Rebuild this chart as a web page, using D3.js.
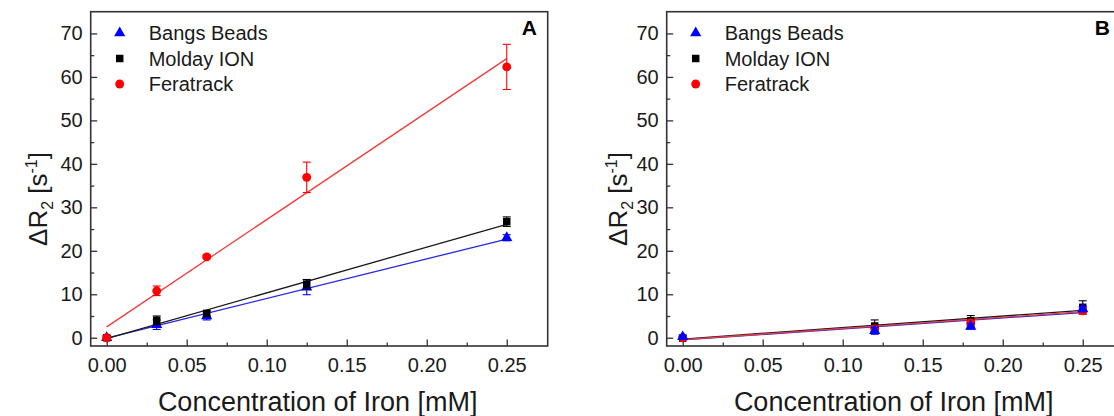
<!DOCTYPE html>
<html>
<head>
<meta charset="utf-8">
<script src="https://cdn.jsdelivr.net/npm/d3@7"></script>
<style>
  body { margin: 0; background: #fff; }
  svg { display: block; font-family: "Liberation Sans", Arial, sans-serif; }
</style>
</head>
<body>
<div id="chart-container"></div>
<script>
const seriesNames = ["Bangs Beads", "Molday ION", "Feratrack"]
const seriesColors = ["#0000ff", "#000000", "#ff0000"]
const lineColors = ["#2626e8", "#1a1a1a", "#ef3b3b"]

// panel A
const concA = [0, 0.03125, 0.0625, 0.125, 0.25]
const bangsA = [0, 3.0, 5.0, 11.6, 23.0]
const bangsErrA = [0.5, 1.1, 0.9, 1.7, 0.7]
const moldayA = [0, 4.0, 5.6, 12.3, 26.7]
const moldayErrA = [0.4, 1.0, 0.6, 1.1, 1.1]
const feraA = [0, 10.8, 18.6, 36.9, 62.3]
const feraErrA = [0.4, 1.1, 0.4, 3.5, 5.2]
// fitted lines: value at first and last concentration
const bangsFitA = [-0.1, 22.7]
const moldayFitA = [-0.2, 26.1]
const feraFitA = [2.5, 64.2]

// panel B
const concB = [0, 0.12, 0.18, 0.25]
const bangsB = [0.2, 1.6, 2.6, 6.6]
const bangsErrB = [0.4, 0.8, 0.6, 0.6]
const moldayB = [-0.1, 2.7, 3.9, 7.0]
const moldayErrB = [0.3, 1.4, 1.2, 1.5]
const feraB = [0, 2.1, 3.4, 6.2]
const feraErrB = [0.3, 0.6, 0.6, 0.8]
const bangsFitB = [-0.5, 5.8]
const moldayFitB = [-0.3, 6.3]
const feraFitB = [-0.45, 6.0]

const xTicks = [0, 0.05, 0.1, 0.15, 0.2, 0.25]
const xMinorTicks = [0.025, 0.075, 0.125, 0.175, 0.225]
const yTicks = [0, 10, 20, 30, 40, 50, 60, 70]
const yMinorTicks = [5, 15, 25, 35, 45, 55, 65]

const W = 1114, H = 416
const plotTop = 11.7, plotBottom = 346
const font = `"Liberation Sans", Arial, sans-serif`

const svg = d3.select("#chart-container")
    .append("svg")
        .attr("width", W)
        .attr("height", H)

const symbols = [d3.symbolTriangle, d3.symbolSquare, d3.symbolCircle]
const symbolSizes = [54, 56, 62]

function drawPanel(p) {
    const x = d3.scaleLinear()
        .domain([-0.01, 0.2756])
        .range([p.left, p.left + 457])
    const y = d3.scaleLinear()
        .domain([-1.9, 75])
        .range([plotBottom, plotTop])

    const g = svg.append("g")

    // ticks (inward)
    const xAxis = g.append("g")
        .attr("transform", `translate(0, ${plotBottom})`)
        .call(d3.axisBottom(x).tickValues(xTicks).tickSizeInner(-6.5).tickSizeOuter(0)
            .tickPadding(11.5).tickFormat(d3.format(".2f")))
    const xMinor = g.append("g")
        .attr("transform", `translate(0, ${plotBottom})`)
        .call(d3.axisBottom(x).tickValues(xMinorTicks).tickSizeInner(-3.5).tickSizeOuter(0).tickFormat(""))
    const yAxis = g.append("g")
        .attr("transform", `translate(${p.left}, 0)`)
        .call(d3.axisLeft(y).tickValues(yTicks).tickSizeInner(-6.5).tickSizeOuter(0).tickPadding(8))
    const yMinor = g.append("g")
        .attr("transform", `translate(${p.left}, 0)`)
        .call(d3.axisLeft(y).tickValues(yMinorTicks).tickSizeInner(-3.5).tickSizeOuter(0).tickFormat(""))

    ;[xAxis, xMinor, yAxis, yMinor].forEach(a => {
        a.select(".domain").remove()
        a.selectAll("line").attr("stroke", "#333").attr("stroke-width", 1.3)
        a.selectAll("text").attr("font-size", 20).attr("font-family", font).attr("fill", "#1a1a1a")
    })

    // frame
    g.append("rect")
        .attr("x", x.range()[0])
        .attr("y", plotTop)
        .attr("width", x.range()[1] - x.range()[0])
        .attr("height", plotBottom - plotTop)
        .attr("fill", "none")
        .attr("stroke", "#333")
        .attr("stroke-width", 1.6)

    // fitted lines
    p.fits.forEach((f, i) => {
        g.append("line")
            .attr("x1", x(p.conc[0]))
            .attr("x2", x(p.conc[p.conc.length - 1]))
            .attr("y1", y(f[0]))
            .attr("y2", y(f[1]))
            .attr("stroke", lineColors[i])
            .attr("stroke-width", 1.3)
    })

    // error bars + markers
    p.order.forEach(i => {
        const vals = p.values[i], errs = p.errors[i]
        const eb = g.append("g").attr("stroke", seriesColors[i]).attr("stroke-width", 1.1)
        vals.forEach((v, j) => {
            const cx = x(p.conc[j])
            eb.append("line").attr("x1", cx).attr("x2", cx).attr("y1", y(v - errs[j])).attr("y2", y(v + errs[j]))
            eb.append("line").attr("x1", cx - 4).attr("x2", cx + 4).attr("y1", y(v - errs[j])).attr("y2", y(v - errs[j]))
            eb.append("line").attr("x1", cx - 4).attr("x2", cx + 4).attr("y1", y(v + errs[j])).attr("y2", y(v + errs[j]))
        })
        g.selectAll(null)
            .data(vals)
            .enter().append("path")
            .attr("d", d3.symbol().type(symbols[i]).size(symbolSizes[i]))
            .attr("transform", (d, j) => `translate(${x(p.conc[j])}, ${y(d)})`)
            .attr("fill", seriesColors[i])
    })

    // legend
    const legend = g.selectAll(".lineLegend")
        .data(seriesNames)
        .enter().append("g")
        .attr("class", "lineLegend")
        .attr("transform", (d, i) => `translate(${p.left + 29}, ${33 + i * 25.5})`)
    legend.append("path")
        .attr("d", (d, i) => d3.symbol().type(symbols[i]).size(symbolSizes[i])())
        .attr("fill", (d, i) => seriesColors[i])
    legend.append("text")
        .text(d => d)
        .attr("x", 29)
        .attr("dy", "0.35em")
        .attr("font-size", 20)
        .attr("font-family", font)
        .attr("fill", "#1a1a1a")

    // panel letter
    g.append("text")
        .text(p.letter)
        .attr("x", p.letterX)
        .attr("y", 34.5)
        .attr("text-anchor", "end")
        .attr("font-size", 21)
        .attr("font-weight", "bold")
        .attr("font-family", font)

    // axis titles
    g.append("text")
        .text("Concentration of Iron [mM]")
        .attr("x", x(0) + 211)
        .attr("y", 411)
        .attr("text-anchor", "middle")
        .attr("font-size", 27)
        .attr("font-family", font)
        .attr("fill", "#1a1a1a")

    const yt = g.append("text")
        .attr("transform", `translate(${p.titleX}, 199) rotate(-90)`)
        .attr("text-anchor", "middle")
        .attr("font-size", 26)
        .attr("font-family", font)
        .attr("fill", "#1a1a1a")
    yt.append("tspan").text("ΔR")
    yt.append("tspan").text("2").attr("font-size", 16).attr("dy", 6)
    yt.append("tspan").text(" [s").attr("dy", -6)
    yt.append("tspan").text("-1").attr("font-size", 16).attr("dy", -10)
    yt.append("tspan").text("]").attr("dy", 10)
}

drawPanel({
    left: 90.7, letter: "A", letterX: 537, titleX: 47,
    conc: concA,
    values: [bangsA, moldayA, feraA],
    errors: [bangsErrA, moldayErrA, feraErrA],
    fits: [bangsFitA, moldayFitA, feraFitA],
    order: [0, 1, 2]
})

drawPanel({
    left: 666.7, letter: "B", letterX: 1110, titleX: 627,
    conc: concB,
    values: [bangsB, moldayB, feraB],
    errors: [bangsErrB, moldayErrB, feraErrB],
    fits: [bangsFitB, moldayFitB, feraFitB],
    order: [1, 2, 0]
})
</script>
</body>
</html>
